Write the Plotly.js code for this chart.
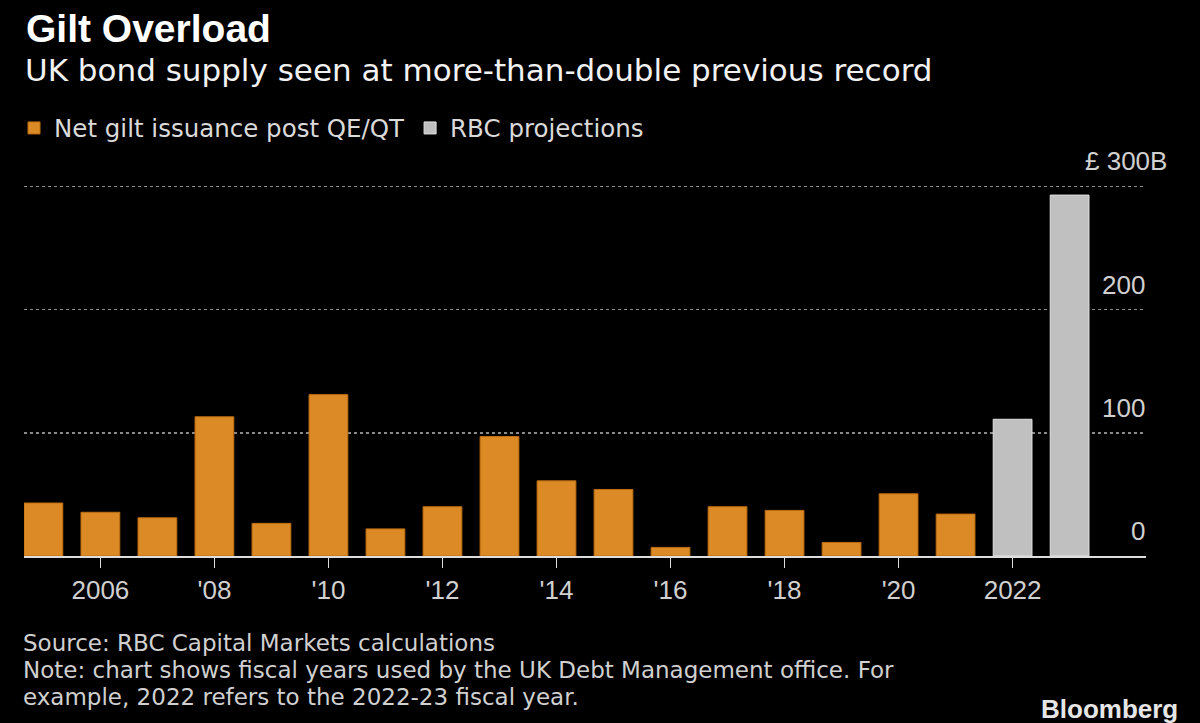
<!DOCTYPE html>
<html>
<head>
<meta charset="utf-8">
<script src="https://cdn.plot.ly/plotly-3.0.1.min.js"></script>
<style>
  html, body { margin: 0; padding: 0; background: #000; }
  #chart { width: 1200px; height: 723px; }
</style>
</head>
<body>
<div id="chart"></div>
<script>
// ---- Data ----
const actualYears = [2005, 2006, 2007, 2008, 2009, 2010, 2011, 2012, 2013, 2014, 2015, 2016, 2017, 2018, 2019, 2020, 2021];
const actualValues = [43, 35.5, 31, 113, 26.5, 131, 22, 40, 97, 61, 54, 7, 40, 37, 11, 50.5, 34];
const projYears = [2022, 2023];
const projValues = [111, 293];
const xTickVals = [2006, 2008, 2010, 2012, 2014, 2016, 2018, 2020, 2022];
const xTickText = ['2006', "'08", "'10", "'12", "'14", "'16", "'18", "'20", '2022'];
const yTickVals = [0, 100, 200, 300];
const yTickText = ['0', '100', '200', '£ 300B'];
const seriesNames = ['Net gilt issuance post QE/QT', 'RBC projections'];
const titleText = 'Gilt Overload';
const subtitleText = 'UK bond supply seen at more-than-double previous record';
const footerLines = [
  'Source: RBC Capital Markets calculations',
  'Note: chart shows fiscal years used by the UK Debt Management office. For',
  'example, 2022 refers to the 2022-23 fiscal year.'
];

// ---- Layout geometry ----
const W = 1200, H = 723;
const M = {l: 24, r: 54, t: 184, b: 167};
const plotW = W - M.l - M.r, plotH = H - M.t - M.b;
const px = p => (p - M.l) / plotW;
const py = p => (H - M.b - p) / plotH;

const FONT = '"Liberation Sans", Arial, sans-serif';
const FONT2 = '"DejaVu Sans", Verdana, sans-serif';

const traces = [
  {
    type: 'bar', name: seriesNames[0], x: actualYears, y: actualValues,
    marker: {color: '#DC8A25', line: {color: '#C06E10', width: 1}},
    width: 0.68, hoverinfo: 'x+y'
  },
  {
    type: 'bar', name: seriesNames[1], x: projYears, y: projValues,
    marker: {color: '#C0C0C0', line: {color: '#E2E2E2', width: 1}},
    width: 0.68, hoverinfo: 'x+y'
  }
];

const annotations = [];
annotations.push({
  text: '<b>' + titleText + '</b>', xref: 'paper', yref: 'paper',
  x: px(24), y: py(29), xanchor: 'left', yanchor: 'middle', showarrow: false,
  font: {family: FONT, size: 39, color: '#FFFFFF'}
});
annotations.push({
  text: subtitleText, xref: 'paper', yref: 'paper',
  x: px(23), y: py(70), xanchor: 'left', yanchor: 'middle', showarrow: false,
  font: {family: FONT2, size: 31, color: '#F2F2F2'}
});
footerLines.forEach((t, i) => {
  annotations.push({
    text: t, xref: 'paper', yref: 'paper',
    x: px(21), y: py(643 + i * 27), xanchor: 'left', yanchor: 'middle', showarrow: false,
    font: {family: FONT2, size: 23, color: '#D0D0D0'}
  });
});
annotations.push({
  text: '<b>Bloomberg</b>', xref: 'paper', yref: 'paper',
  x: px(1180), y: py(709), xanchor: 'right', yanchor: 'middle', showarrow: false,
  font: {family: '"Liberation Sans Narrow", "Liberation Sans", sans-serif', size: 26, color: '#E6E6E6'}
});
yTickVals.forEach((v, i) => {
  annotations.push({
    text: yTickText[i], xref: 'paper', yref: 'y',
    x: 1, y: v, xanchor: 'right', yanchor: 'middle', showarrow: false,
    yshift: 25, xshift: i === yTickVals.length - 1 ? 23 : 1,
    font: {family: FONT, size: 26, color: '#D0D0D0'}
  });
});

const layout = {
  width: W, height: H,
  margin: M,
  paper_bgcolor: '#000000', plot_bgcolor: '#000000',
  showlegend: true,
  legend: {
    orientation: 'h', x: px(14), y: py(128), xanchor: 'left', yanchor: 'middle',
    xref: 'paper', yref: 'paper',
    font: {family: FONT2, size: 24.5, color: '#DADADA'},
    bgcolor: 'rgba(0,0,0,0)', itemclick: false, itemdoubleclick: false,
    traceorder: 'normal'
  },
  xaxis: {
    range: [2004.66, 2024.34],
    tickmode: 'array', tickvals: xTickVals, ticktext: xTickText,
    ticks: 'outside', ticklen: 10, tickwidth: 1.5, tickcolor: '#DDDDDD',
    showline: true, linecolor: '#DDDDDD', linewidth: 2,
    showgrid: false, zeroline: false,
    tickfont: {family: FONT, size: 26, color: '#D0D0D0'},
    fixedrange: true
  },
  yaxis: {
    range: [0, 302],
    tickmode: 'array', tickvals: yTickVals,
    showticklabels: false,
    showgrid: true, gridcolor: '#8A8A8A', griddash: '3px,3px', gridwidth: 1.5,
    zeroline: false, showline: false,
    fixedrange: true
  },
  annotations: annotations
};

Plotly.newPlot('chart', traces, layout, {displayModeBar: false, staticPlot: true});
</script>
</body>
</html>
